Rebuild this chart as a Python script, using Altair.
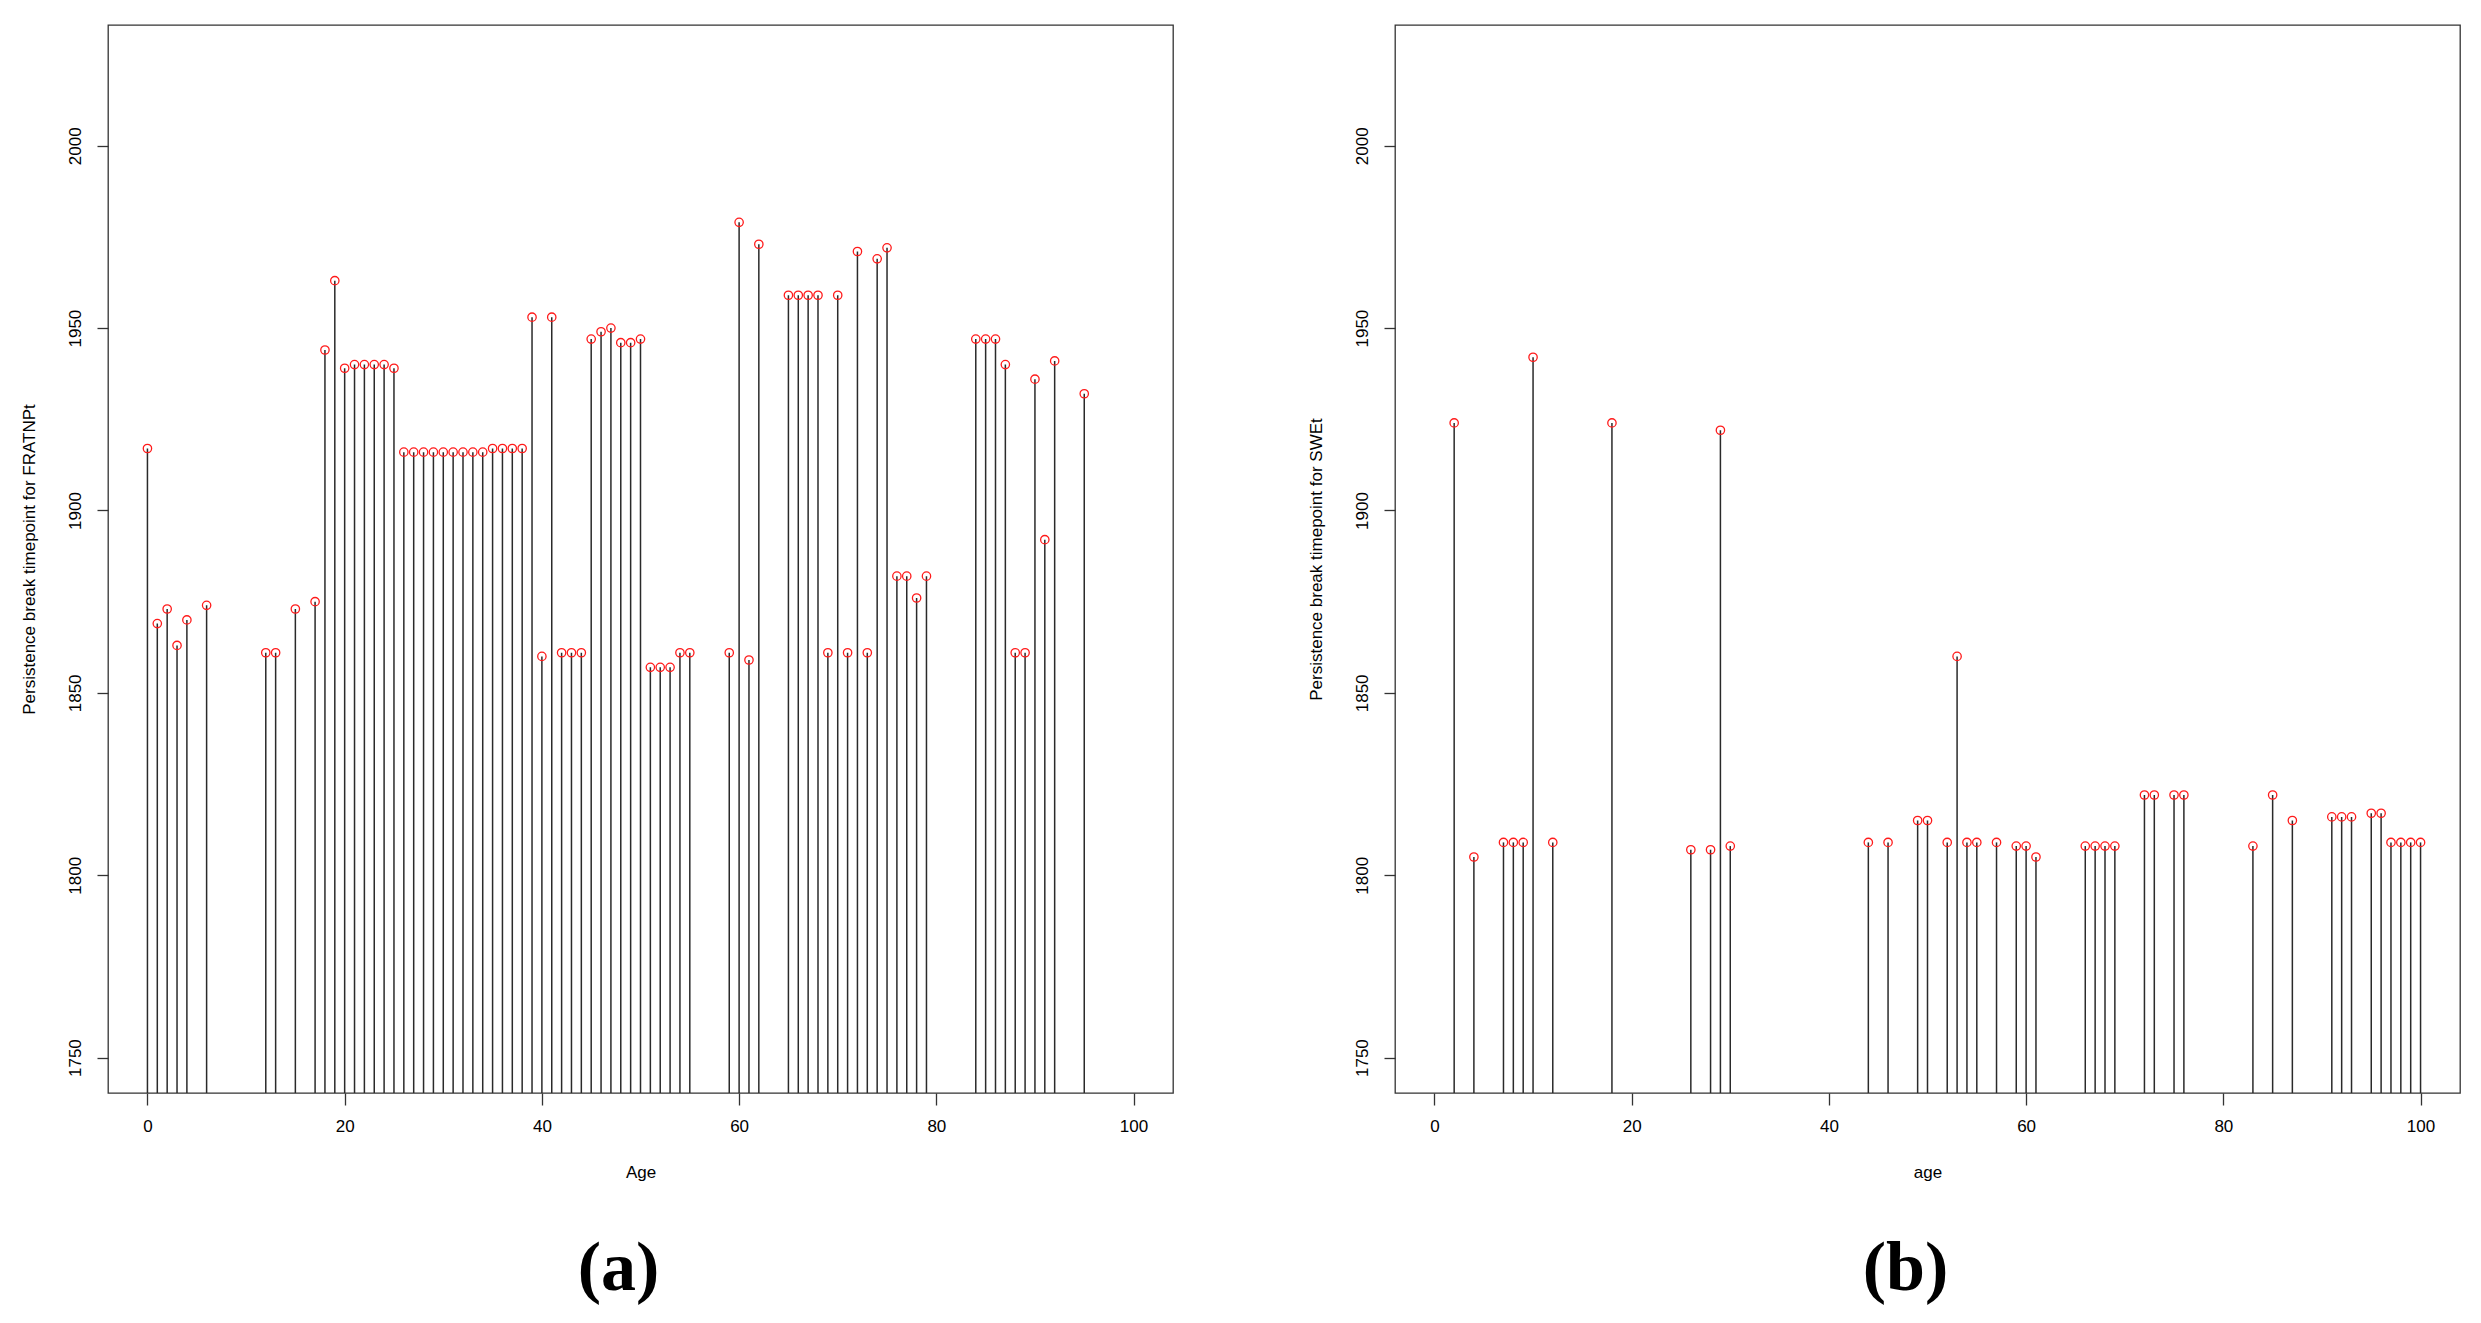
import altair as alt
import pandas as pd

# ---- data ----
ages_a = [0, 1, 2, 3, 4, 6, 12, 13, 15, 17, 18, 19,
          20, 21, 22, 23, 24, 25,
          26, 27, 28, 29, 30, 31, 32, 33, 34, 35, 36, 37, 38,
          39, 40, 41, 42, 43, 44, 45, 46, 47, 48, 49, 50, 51, 52, 53, 54, 55,
          59, 60, 61, 62,
          65, 66, 67, 68, 69, 70, 71, 72, 73, 74, 75, 76, 77, 78, 79,
          84, 85, 86, 87, 88, 89, 90, 91, 92, 95]
vals_a = [1917, 1869, 1873, 1863, 1870, 1874, 1861, 1861, 1873, 1875, 1944, 1963,
          1939, 1940, 1940, 1940, 1940, 1939,
          1916, 1916, 1916, 1916, 1916, 1916, 1916, 1916, 1916, 1917, 1917, 1917, 1917,
          1953, 1860, 1953, 1861, 1861, 1861, 1947, 1949, 1950, 1946, 1946, 1947, 1857, 1857, 1857, 1861, 1861,
          1861, 1979, 1859, 1973,
          1959, 1959, 1959, 1959, 1861, 1959, 1861, 1971, 1861, 1969, 1972, 1882, 1882, 1876, 1882,
          1947, 1947, 1947, 1940, 1861, 1861, 1936, 1892, 1941, 1932]

ages_b = [2, 4, 7, 8, 9, 10, 12, 18, 26, 28, 29, 30,
          44, 46, 49, 50, 52, 53, 54, 55, 57, 59, 60, 61,
          66, 67, 68, 69, 72, 73, 75, 76, 83, 85, 87,
          91, 92, 93, 95, 96, 97, 98, 99, 100]
vals_b = [1924, 1805, 1809, 1809, 1809, 1942, 1809, 1924, 1807, 1807, 1922, 1808,
          1809, 1809, 1815, 1815, 1809, 1860, 1809, 1809, 1809, 1808, 1808, 1805,
          1808, 1808, 1808, 1808, 1822, 1822, 1822, 1822, 1808, 1822, 1815,
          1816, 1816, 1816, 1817, 1817, 1809, 1809, 1809, 1809]

x_ticks = [0, 20, 40, 60, 80, 100]
y_ticks = [1750, 1800, 1850, 1900, 1950, 2000]
X_DOMAIN = [-4, 104]
Y_DOMAIN = [1740.3, 2033.1]

FONT = "Liberation Sans"


def panel(ages, vals, xtitle, ytitle, label):
    df = pd.DataFrame({"age": ages, "year": vals, "base": [Y_DOMAIN[0]] * len(ages)})
    xenc = alt.X(
        "age:Q",
        scale=alt.Scale(domain=X_DOMAIN, nice=False, zero=False),
        axis=alt.Axis(values=x_ticks, title=xtitle, grid=False, domain=False,
                      format="d",
                      tickSize=12, tickColor="#333333", tickWidth=1.3,
                      labelFont=FONT, labelFontSize=17, labelColor="black",
                      labelPadding=13, labelFlush=False,
                      titleFont=FONT, titleFontSize=17, titleFontWeight="normal",
                      titleColor="black", titlePadding=30),
    )
    yenc = alt.Y(
        "year:Q",
        scale=alt.Scale(domain=Y_DOMAIN, nice=False, zero=False),
        axis=alt.Axis(values=y_ticks, title=ytitle, grid=False, domain=False,
                      format="d",
                      tickSize=11, tickColor="#333333", tickWidth=1.3,
                      labelFont=FONT, labelFontSize=17, labelColor="black",
                      labelAngle=270, labelAlign="center", labelBaseline="bottom",
                      labelPadding=13, labelFlush=False,
                      titleFont=FONT, titleFontSize=17, titleFontWeight="normal",
                      titleColor="black", titlePadding=28),
    )
    base = alt.Chart(df)
    stems = base.mark_rule(color="#2a2a2a", strokeWidth=1.5, clip=True).encode(
        x=xenc, y=yenc, y2="base:Q"
    )
    pts = base.mark_point(shape="circle", filled=False, color="#ff1a1a",
                          size=70, strokeWidth=1.3, opacity=1).encode(x=xenc, y=yenc)
    return alt.layer(stems, pts).properties(
        width=1065, height=1068,
        title=alt.TitleParams(label, orient="bottom", anchor="middle", frame="group",
                              font="Liberation Serif", fontSize=70, fontWeight="bold",
                              color="black", offset=55, dx=-22),
    )


left = panel(ages_a, vals_a, "Age", "Persistence break timepoint for FRATNPt", "(a)")
right = panel(ages_b, vals_b, "age", "Persistence break timepoint for SWEt", "(b)")

chart = alt.hconcat(left, right, spacing=132).configure_view(
    stroke="#333333", strokeWidth=1.3
).properties(
    padding={"left": 11, "top": 16, "right": 5, "bottom": 5}
)

chart.save("out.html", embed_options={"renderer": "svg", "actions": False})
